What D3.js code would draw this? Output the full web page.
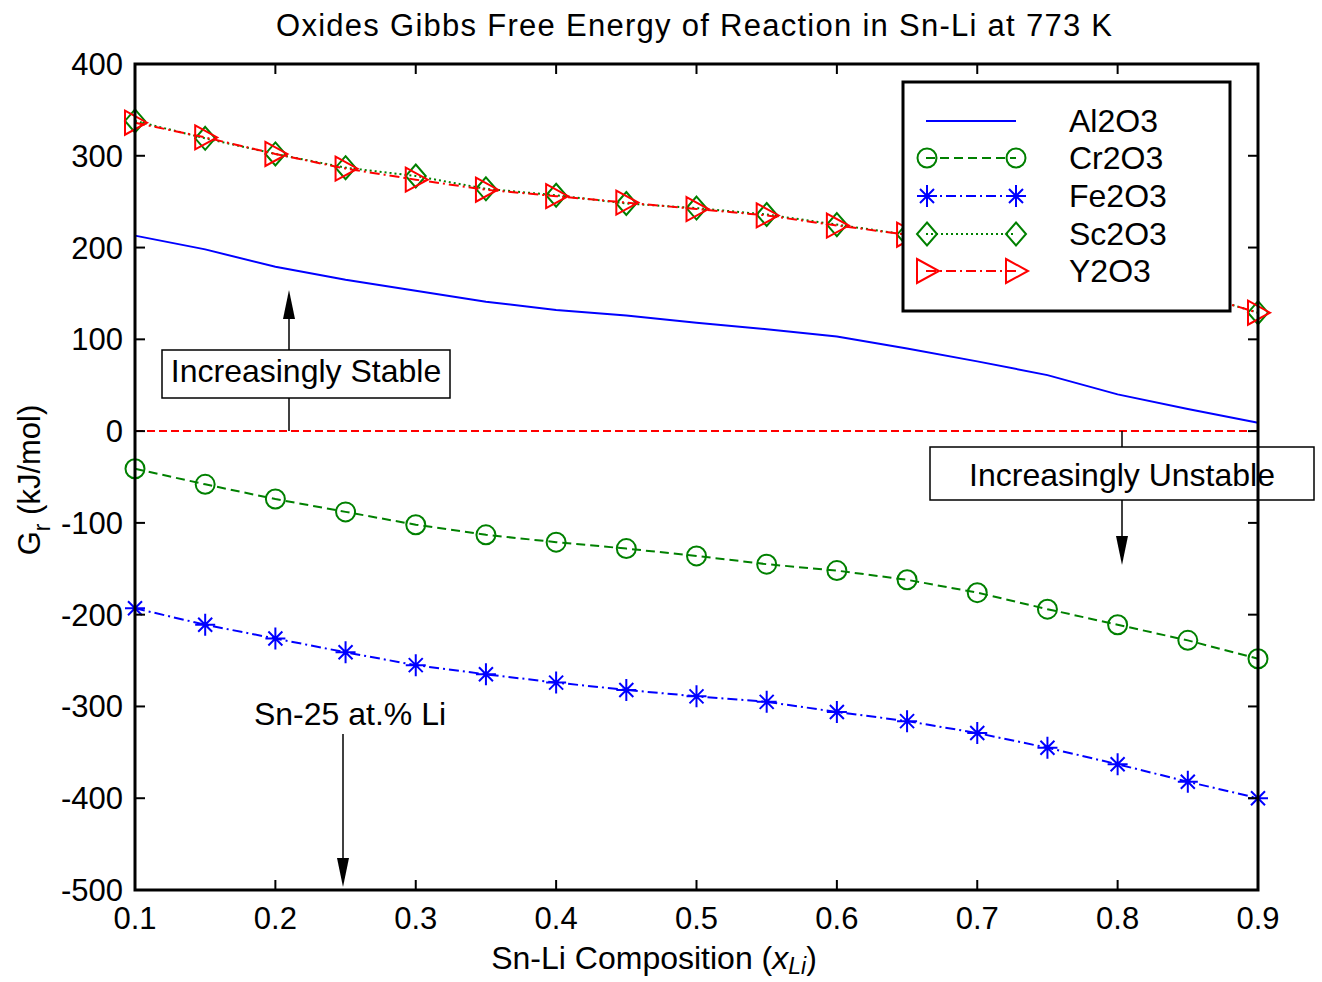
<!DOCTYPE html>
<html lang="en">
<head>
<meta charset="UTF-8" />
<title>Oxides Gibbs Free Energy of Reaction in Sn-Li at 773 K</title>
<script src="https://d3js.org/d3.v7.min.js"></script>
<style>
  body { margin: 0; background: #fff; }
  svg text { font-family: "Liberation Sans", Arial, sans-serif; fill: #000; }
</style>
</head>
<body>
<div id="chart"></div>
<script>
// Li fraction in the Sn-Li melt
const composition = [0.1, 0.15, 0.2, 0.25, 0.3, 0.35, 0.4, 0.45, 0.5, 0.55, 0.6, 0.65, 0.7, 0.75, 0.8, 0.85, 0.9]

// Gibbs free energy of reaction (kJ/mol)
const al2o3 = [213, 198, 179, 165, 153, 141, 132, 126, 118, 111, 103, 90, 76, 61, 40, 24, 9]
const cr2o3 = [-41, -58, -74, -88, -102, -113, -121, -128, -136, -145, -152, -162, -176, -194, -211, -228, -248]
const fe2o3 = [-193, -211, -226, -241, -255, -265, -274, -282, -289, -295, -306, -316, -329, -345, -363, -382, -400]
const sc2o3 = [338, 319, 302, 287, 278, 264, 257, 248, 243, 236, 225, 214, 203, 188, 172, 152, 129]
const y2o3 = [336, 320, 302, 286, 274, 263, 256, 249, 242, 235, 224, 214, 203, 188, 172, 152, 129]

const xTicks = [0.1, 0.2, 0.3, 0.4, 0.5, 0.6, 0.7, 0.8, 0.9]
const yTicks = [-500, -400, -300, -200, -100, 0, 100, 200, 300, 400]

const series = [
  { name: "Al2O3", values: al2o3, color: "#0000ff", dash: null, marker: null },
  { name: "Cr2O3", values: cr2o3, color: "#008000", dash: "9,5", marker: "circle" },
  { name: "Fe2O3", values: fe2o3, color: "#0000ff", dash: "10,4,2,4", marker: "star" },
  { name: "Sc2O3", values: sc2o3, color: "#008000", dash: "2,3", marker: "diamond" },
  { name: "Y2O3", values: y2o3, color: "#ff0000", dash: "10,4,2,4", marker: "triangle" }
]

const W = 1322, H = 982
const plotLeft = 135, plotRight = 1258, plotTop = 64, plotBottom = 890

const svg = d3.select("#chart").append("svg").attr("width", W).attr("height", H)

const x = d3.scaleLinear().domain([0.1, 0.9]).range([plotLeft, plotRight])
const y = d3.scaleLinear().domain([-500, 400]).range([plotBottom, plotTop])

function markerPath(type, cx, cy) {
  const p = d3.path()
  if (type === "star") {
    p.moveTo(cx - 10, cy); p.lineTo(cx + 10, cy)
    p.moveTo(cx, cy - 11); p.lineTo(cx, cy + 11)
    p.moveTo(cx - 7, cy - 7); p.lineTo(cx + 7, cy + 7)
    p.moveTo(cx - 7, cy + 7); p.lineTo(cx + 7, cy - 7)
  } else if (type === "diamond") {
    p.moveTo(cx, cy - 11.5); p.lineTo(cx + 10, cy); p.lineTo(cx, cy + 11.5); p.lineTo(cx - 10, cy); p.closePath()
  } else if (type === "triangle") {
    p.moveTo(cx - 10, cy - 12); p.lineTo(cx + 12, cy); p.lineTo(cx - 10, cy + 12); p.closePath()
  } else if (type === "circle") {
    p.moveTo(cx + 9.5, cy)
    p.arc(cx, cy, 9.5, 0, 2 * Math.PI)
  }
  return p.toString()
}

// zero reference line
svg.append("line")
  .attr("x1", plotLeft).attr("x2", plotRight)
  .attr("y1", y(0)).attr("y2", y(0))
  .attr("stroke", "#ff0000").attr("stroke-width", 2)
  .attr("stroke-dasharray", "8,4")

// annotation arrows (drawn before the boxes so the boxes cover them)
function arrow(xv, y1, y2, headLen) {
  const dir = y2 > y1 ? 1 : -1
  svg.append("line")
    .attr("x1", xv).attr("x2", xv)
    .attr("y1", y1).attr("y2", y2 - dir * headLen)
    .attr("stroke", "#000").attr("stroke-width", 1.5)
  svg.append("path")
    .attr("d", `M${xv - 6},${y2 - dir * headLen} L${xv + 6},${y2 - dir * headLen} L${xv},${y2} Z`)
    .attr("fill", "#000")
}

const line = d3.line().x((d, i) => x(composition[i])).y(d => y(d))

series.forEach(s => {
  svg.append("path")
    .datum(s.values)
    .attr("d", line)
    .attr("fill", "none")
    .attr("stroke", s.color)
    .attr("stroke-width", 2)
    .attr("stroke-dasharray", s.dash)
  if (s.marker) {
    svg.append("g").selectAll("path")
      .data(s.values)
      .join("path")
      .attr("d", (d, i) => markerPath(s.marker, x(composition[i]), y(d)))
      .attr("fill", "none")
      .attr("stroke", s.color)
      .attr("stroke-width", 2)
  }
})

// annotations
arrow(289, y(0), 290, 29)
svg.append("rect").attr("x", 162).attr("y", 350).attr("width", 288).attr("height", 48)
  .attr("fill", "#fff").attr("stroke", "#000").attr("stroke-width", 1.5)
svg.append("text").attr("x", 306).attr("y", 382).attr("text-anchor", "middle")
  .attr("font-size", 32).text("Increasingly Stable")

arrow(1122, y(0), 565, 29)
svg.append("rect").attr("x", 930).attr("y", 447).attr("width", 384).attr("height", 53)
  .attr("fill", "#fff").attr("stroke", "#000").attr("stroke-width", 1.5)
svg.append("text").attr("x", 1122).attr("y", 486).attr("text-anchor", "middle")
  .attr("font-size", 32).text("Increasingly Unstable")

svg.append("text").attr("x", 350).attr("y", 725).attr("text-anchor", "middle")
  .attr("font-size", 32).text("Sn-25 at.% Li")
arrow(343, 734, 887, 29)

// axes box and ticks
svg.append("rect").attr("x", plotLeft).attr("y", plotTop)
  .attr("width", plotRight - plotLeft).attr("height", plotBottom - plotTop)
  .attr("fill", "none").attr("stroke", "#000").attr("stroke-width", 3)

const tickLen = 10
const ticks = svg.append("g").attr("stroke", "#000").attr("stroke-width", 2)
yTicks.forEach(t => {
  ticks.append("line").attr("x1", plotLeft).attr("x2", plotLeft + tickLen).attr("y1", y(t)).attr("y2", y(t))
  ticks.append("line").attr("x1", plotRight).attr("x2", plotRight - tickLen).attr("y1", y(t)).attr("y2", y(t))
})
xTicks.forEach(t => {
  ticks.append("line").attr("x1", x(t)).attr("x2", x(t)).attr("y1", plotBottom).attr("y2", plotBottom - tickLen)
  ticks.append("line").attr("x1", x(t)).attr("x2", x(t)).attr("y1", plotTop).attr("y2", plotTop + tickLen)
})

svg.append("g").selectAll("text")
  .data(yTicks)
  .join("text")
  .attr("x", plotLeft - 12)
  .attr("y", d => y(d) + 11)
  .attr("text-anchor", "end")
  .attr("font-size", 31)
  .text(d => d)

svg.append("g").selectAll("text")
  .data(xTicks)
  .join("text")
  .attr("x", d => x(d))
  .attr("y", 929)
  .attr("text-anchor", "middle")
  .attr("font-size", 31)
  .text(d => d.toFixed(1))

// legend
const lg = svg.append("g")
lg.append("rect").attr("x", 903).attr("y", 82).attr("width", 327).attr("height", 229)
  .attr("fill", "#fff").attr("stroke", "#000").attr("stroke-width", 3)
const legendRows = [121, 158, 196, 234, 271]
series.forEach((s, i) => {
  const ly = legendRows[i]
  lg.append("line").attr("x1", 926).attr("x2", 1016).attr("y1", ly).attr("y2", ly)
    .attr("stroke", s.color).attr("stroke-width", 2).attr("stroke-dasharray", s.dash)
  if (s.marker) {
    ;[927, 1016].forEach(mx => {
      lg.append("path").attr("d", markerPath(s.marker, mx, ly))
        .attr("fill", "none").attr("stroke", s.color).attr("stroke-width", 2)
    })
  }
  lg.append("text").attr("x", 1069).attr("y", ly + 11).attr("font-size", 32).text(s.name)
})

// title and axis labels
svg.append("text").attr("x", 694).attr("y", 36).attr("text-anchor", "middle")
  .attr("font-size", 31).attr("textLength", 836).attr("lengthAdjust", "spacing")
  .text("Oxides Gibbs Free Energy of Reaction in Sn-Li at 773 K")

const xl = svg.append("text").attr("x", 654).attr("y", 969).attr("text-anchor", "middle").attr("font-size", 32)
xl.append("tspan").text("Sn-Li Composition (")
xl.append("tspan").attr("font-style", "italic").text("x")
xl.append("tspan").attr("font-style", "italic").attr("font-size", 23).attr("dy", 5).text("Li")
xl.append("tspan").attr("dy", -5).text(")")

const yl = svg.append("text").attr("transform", "translate(40,480) rotate(-90)")
  .attr("text-anchor", "middle").attr("font-size", 31)
yl.append("tspan").text("G")
yl.append("tspan").attr("font-size", 23).attr("dy", 10).text("r")
yl.append("tspan").attr("dy", -10).text(" (kJ/mol)")
</script>
</body>
</html>
